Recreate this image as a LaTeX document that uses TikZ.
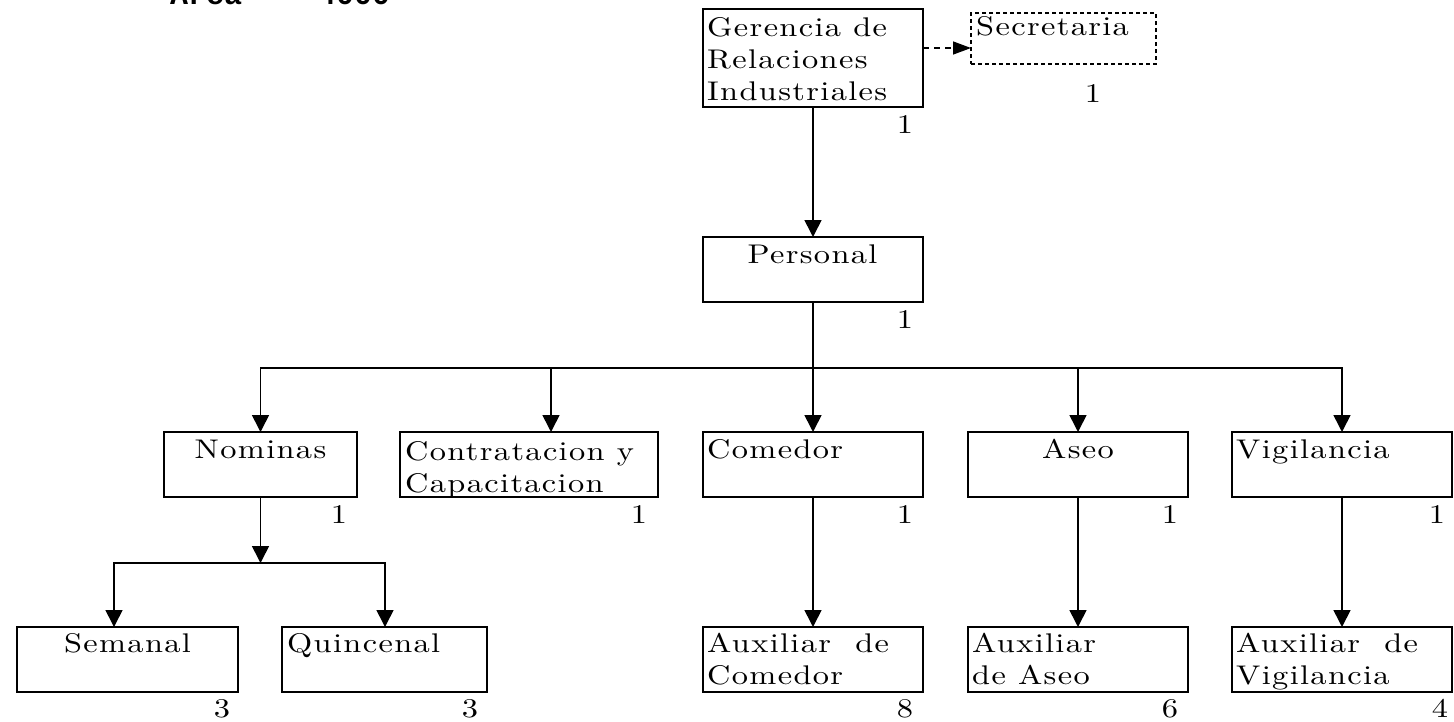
\documentclass[tikz,border=0pt]{standalone}
\usepackage{fontspec}
\usetikzlibrary{arrows.meta,calc}
\newfontfamily\orgfont{lmroman10-regular.otf}[FakeStretch=1.2,LetterSpace=5]
\newfontfamily\headfont{Liberation Mono}
\newcommand\orgtext{\orgfont\fontsize{27}{32}\selectfont}
\newcommand\orgstack[1]{\vtop{#1}}
\begin{document}
\begin{tikzpicture}[x=1pt,y=-1pt,
  box/.style={draw,line width=1.6pt,inner sep=0pt,outer sep=0pt,anchor=north west},
  txt/.style={font=\orgtext,inner sep=0pt,anchor=base west},
  ctxt/.style={font=\orgtext,inner sep=0pt,anchor=base},
  num/.style={font=\orgtext,inner sep=0pt,anchor=base},
  head/.style={font=\headfont\bfseries\fontsize{30}{30}\selectfont,inner sep=0pt,anchor=base west},
  arr/.style={line width=1.6pt,-{Triangle[length=17pt,width=17pt]}},
  dasharr/.style={line width=1.4pt,dash pattern=on 6pt off 5pt,-{Triangle[length=18pt,width=13pt]}},
]
\useasboundingbox (0,0) rectangle (1454,721);
\clip (0,0) rectangle (1454,721);

% heading, cut by the upper edge
\node[head] (hA) at (170,4) {Area};
\node[head] (hB) at (318,4) {4000};

% boxes
\node[box,minimum width=220pt,minimum height=98pt] (ger) at (703,9) {};
\node[box,line width=1.3pt,dash pattern=on 4pt off 3pt,minimum width=185pt,minimum height=51pt] (sec) at (971,13) {};
\node[box,minimum width=220pt,minimum height=65pt] (per) at (703,237) {};
\node[box,minimum width=193pt,minimum height=65pt] (nom) at (164,432) {};
\node[box,minimum width=258pt,minimum height=65pt] (con) at (400,432) {};
\node[box,minimum width=220pt,minimum height=65pt] (com) at (703,432) {};
\node[box,minimum width=220pt,minimum height=65pt] (ase) at (968,432) {};
\node[box,minimum width=220pt,minimum height=65pt] (vig) at (1232,432) {};
\node[box,minimum width=221pt,minimum height=65pt] (sem) at (17,627) {};
\node[box,minimum width=205pt,minimum height=65pt] (qui) at (282,627) {};
\node[box,minimum width=220pt,minimum height=65pt] (acom) at (703,627) {};
\node[box,minimum width=220pt,minimum height=65pt] (aase) at (968,627) {};
\node[box,minimum width=220pt,minimum height=65pt] (avig) at (1232,627) {};

% box texts
\node[txt] (gerT) at (707,36) {\orgstack{\hbox{Gerencia de}\hbox{Relaciones}\hbox{Industriales}}};
\node[txt] (secT) at (976,35) {Secretaria};
\node[ctxt] (perT) at (812.5,263) {Personal};
\node[ctxt] (nomT) at (260.5,458) {Nominas};
\node[txt] (conT) at (405,460) {\orgstack{\hbox{Contratacion y}\hbox{Capacitacion}}};
\node[txt] (comT) at (707,458) {Comedor};
\node[ctxt] (aseT) at (1078,458) {Aseo};
\node[txt] (vigT) at (1236,458) {Vigilancia};
\node[ctxt] (semT) at (127.5,652) {Semanal};
\node[txt] (quiT) at (287,652) {Quincenal};
\node[txt] (acomT) at (707,652) {\orgstack{\hbox{Auxiliar\ \ de}\hbox{Comedor}}};
\node[txt] (aaseT) at (972,652) {\orgstack{\hbox{Auxiliar}\hbox{de Aseo}}};
\node[txt] (avigT) at (1236,652) {\orgstack{\hbox{Auxiliar\ \ de}\hbox{Vigilancia}}};

% head counts
\node[num] (gerN) at ($(ger.south east)+(-18,26)$) {1};
\node[num] (secN) at ($(sec.south east)+(-63,38)$) {1};
\node[num] (perN) at ($(per.south east)+(-18,26)$) {1};
\node[num] (nomN) at ($(nom.south east)+(-18,26)$) {1};
\node[num] (conN) at ($(con.south east)+(-19,26)$) {1};
\node[num] (comN) at ($(com.south east)+(-18,26)$) {1};
\node[num] (aseN) at ($(ase.south east)+(-18,26)$) {1};
\node[num] (vigN) at ($(vig.south east)+(-15,26)$) {1};
\node[num] (semN) at ($(sem.south east)+(-16,25)$) {3};
\node[num] (quiN) at ($(qui.south east)+(-17,25)$) {3};
\node[num] (acomN) at ($(acom.south east)+(-18,25)$) {8};
\node[num] (aaseN) at ($(aase.south east)+(-18,25)$) {6};
\node[num] (avigN) at ($(avig.south east)+(-12,25)$) {4};

% connectors
\coordinate (dStart) at ($(ger.north east)+(0,39)$);
\draw[dasharr] (dStart) -- (dStart -| sec.west);
\draw[arr] (ger.south) -- (per.north);

\coordinate (hub) at ($(per.south)+(0,66)$);
\coordinate (conIn) at ($(con.north west)+(151,0)$);
\draw[arr] (per.south) -- (com.north);
\draw[arr] (hub) -| (nom.north);
\draw[arr] (hub) -| (conIn);
\draw[arr] (hub) -| (ase.north);
\draw[arr] (hub) -| (vig.north);

\coordinate (nomHub) at ($(nom.south)+(0,66)$);
\coordinate (semIn) at ($(sem.north west)+(97,0)$);
\coordinate (quiIn) at ($(qui.north west)+(103,0)$);
\draw[arr] (nom.south) -- (nomHub);
\draw[arr] (nomHub) -| (semIn);
\draw[arr] (nomHub) -| (quiIn);

\draw[arr] (com.south) -- (acom.north);
\draw[arr] (ase.south) -- (aase.north);
\draw[arr] (vig.south) -- (avig.north);
\end{tikzpicture}
\end{document}
